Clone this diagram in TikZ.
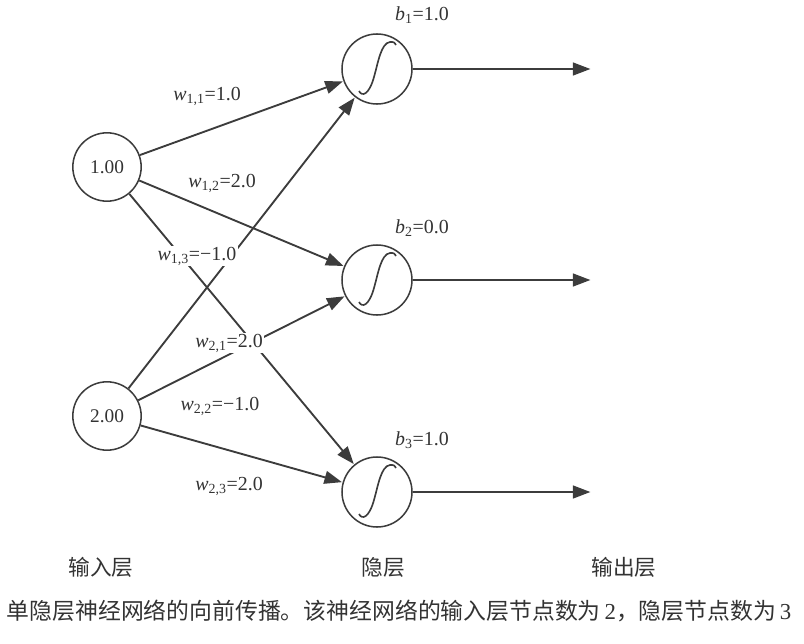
\documentclass[tikz,border=0pt]{standalone}
\usepackage{fontspec}
\setmainfont{Liberation Serif}
\newfontfamily\cjk{Noto Sans CJK SC}
\usetikzlibrary{arrows.meta}
\definecolor{nnline}{HTML}{3C3C3C}
\definecolor{nntext}{HTML}{333333}
\tikzset{
  inunit/.style   = {circle, draw=nnline, line width=1.3pt, minimum size=2.05cm,
                     inner sep=0pt, font=\fontsize{16.5}{16.5}\selectfont\color{nntext}},
  hidunit/.style  = {circle, draw=nnline, line width=1.3pt, minimum size=2.1cm, inner sep=0pt},
  wlabel/.style   = {fill=white, inner sep=1pt, font=\fontsize{17}{17}\selectfont\color{nntext}},
  blabel/.style   = {inner sep=1pt, font=\fontsize{17}{17}\selectfont\color{nntext}},
  layerlabel/.style = {font=\cjk\fontsize{18.5}{18.5}\selectfont\color{nntext}},
  captext/.style  = {font=\cjk\fontsize{19.5}{19.5}\selectfont\color{nntext}},
  warrow/.style   = {-{Triangle[length=15pt,width=11pt]}, line width=1.6pt, draw=nnline, shorten >=0.5pt},
  sigline/.style  = {line width=1.4pt, draw=nnline},
}

\begin{document}
\begin{tikzpicture}[x=0.03cm, y=-0.03cm]
\useasboundingbox (0,0) rectangle (804,644);

\node[inunit] (in1) at (107,167) {1.00};
\node[inunit] (in2) at (107,416) {2.00};
\node[hidunit] (hid1) at (377,69)  {};
\node[hidunit] (hid2) at (377,280) {};
\node[hidunit] (hid3) at (377,492) {};

% sigmoid curves inside the hidden units
\foreach \h in {hid1,hid2,hid3}
  \draw[sigline] ([shift={(-18,22)}]\h.center) .. controls ([shift={(-15,28)}]\h.center) and ([shift={(-8,26)}]\h.center) .. ([shift={(-3,8)}]\h.center)
                 .. controls ([shift={(1,-6)}]\h.center) and ([shift={(4,-26)}]\h.center) .. ([shift={(13,-27)}]\h.center)
                 .. controls ([shift={(17,-27)}]\h.center) .. ([shift={(19,-24)}]\h.center);

\coordinate (out1) at (591,69);
\coordinate (out2) at (591,280);
\coordinate (out3) at (591,492);

\draw[warrow] (in1) -- (hid1);
\draw[warrow] (in1) -- (hid2);
\draw[warrow] (in1) -- (hid3);
\draw[warrow] (in2) -- (hid1);
\draw[warrow] (in2) -- (hid2);
\draw[warrow] (in2) -- (hid3);

\draw[warrow] (hid1) -- (out1);
\draw[warrow] (hid2) -- (out2);
\draw[warrow] (hid3) -- (out3);

\node[wlabel] (w11) at (207,96)  {\textit{w}\textsubscript{1,1}=1.0};
\node[wlabel] (w12) at (222,183) {\textit{w}\textsubscript{1,2}=2.0};
\node[wlabel] (w13) at (197,256) {\textit{w}\textsubscript{1,3}=−1.0};
\node[wlabel] (w21) at (229,343) {\textit{w}\textsubscript{2,1}=2.0};
\node[wlabel] (w22) at (220,406) {\textit{w}\textsubscript{2,2}=−1.0};
\node[wlabel] (w23) at (229,486) {\textit{w}\textsubscript{2,3}=2.0};

\node[blabel] (b1) at (422,15)  {\textit{b}\textsubscript{1}=1.0};
\node[blabel] (b2) at (422,228) {\textit{b}\textsubscript{2}=0.0};
\node[blabel] (b3) at (422,440) {\textit{b}\textsubscript{3}=1.0};

\node[layerlabel] (linput)  at (101,567) {输入层};
\node[layerlabel] (lhidden) at (383,567) {隐层};
\node[layerlabel] (loutput) at (624,567) {输出层};

\node[captext] (caption) at (399,611) {单隐层神经网络的向前传播。该神经网络的输入层节点数为\,{\rmfamily 2}，隐层节点数为\,{\rmfamily 3}};
\end{tikzpicture}
\end{document}
